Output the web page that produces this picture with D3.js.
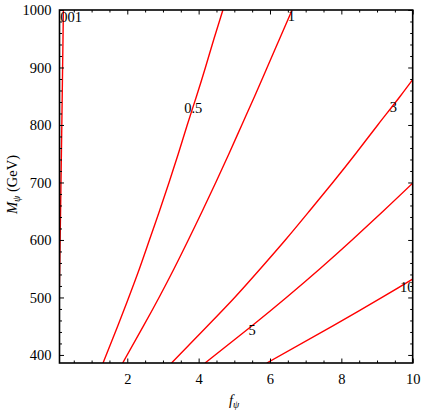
<!DOCTYPE html>
<html>
<head>
<meta charset="utf-8">
<script src="https://cdn.jsdelivr.net/npm/d3@7"></script>
<style>
    html, body { margin: 0; padding: 0; background: #fff; }
    svg { display: block; }
</style>
</head>
<body>
<svg id="chart"></svg>
<script>
const SERIF = '"Liberation Serif", "Times New Roman", "DejaVu Serif", serif';

// Contour levels and their lines, each point is [f_psi, M_psi]
const levels = ['0.001', '0.5', '1', '3', '5', '10'];

const massGrid = [386, 450, 500, 550, 600, 650, 700, 750, 800, 850, 900, 950, 1000];

const line0001 = [0.059, 0.077, 0.091, 0.105, 0.117, 0.130, 0.142, 0.153, 0.165, 0.176, 0.187, 0.198, 0.209];
const line05 = [1.32, 1.73, 2.04, 2.34, 2.62, 2.90, 3.17, 3.43, 3.68, 3.94, 4.19, 4.43, 4.68];
const line1 = [1.87, 2.45, 2.89, 3.31, 3.71, 4.10, 4.48, 4.85, 5.21, 5.57, 5.92, 6.27, 6.62];
const line3 = [3.24, 4.24, 5.01, 5.73, 6.43, 7.10, 7.76, 8.40, 9.02, 9.65, 10.25, 10.86, 11.47];
const line5 = [4.18, 5.48, 6.46, 7.40, 8.30, 9.17, 10.02, 10.84, 11.65, 12.45, 13.24, 14.02, 14.80];
const line10 = [5.91, 7.75, 9.14, 10.47, 11.73, 12.96, 14.17, 15.34, 16.47, 17.61, 18.72, 19.83, 20.93];

// where each contour label sits (data coords)
const labelF = [0.27, 3.85, 6.6, 9.46, 5.5, 9.85];
const labelM = [988, 830, 990, 831, 443, 518];

const xTicks = [2, 4, 6, 8, 10];
const yTicks = [400, 500, 600, 700, 800, 900, 1000];

const width = 421, height = 412;
const margin = { top: 10, right: 8.3, bottom: 49, left: 59.5 };
const plotW = width - margin.left - margin.right;
const plotH = height - margin.top - margin.bottom;

const svg = d3.select('#chart')
    .attr('width', width)
    .attr('height', height)
    .attr('viewBox', `0 0 ${width} ${height}`)
    .attr('font-family', SERIF);

const x = d3.scaleLinear().domain([0.1, 10]).range([0, plotW]);
const y = d3.scaleLinear().domain([386, 1000]).range([plotH, 0]);

const g = svg.append('g')
    .attr('transform', `translate(${margin.left},${margin.top})`);

g.append('clipPath').attr('id', 'plot-clip')
    .append('rect').attr('width', plotW).attr('height', plotH);

// contour lines
const series = [line0001, line05, line1, line3, line5, line10]
    .map(vals => vals.map((f, i) => [f, massGrid[i]]));

const line = d3.line()
    .x(d => x(d[0]))
    .y(d => y(d[1]))
    .curve(d3.curveNatural);

const plot = g.append('g').attr('clip-path', 'url(#plot-clip)');

plot.selectAll('path.contour')
    .data(series)
    .enter()
    .append('path')
    .attr('class', 'contour')
    .attr('d', line)
    .attr('fill', 'none')
    .attr('stroke', '#ff0000')
    .attr('stroke-width', 1.4);

plot.selectAll('text.label')
    .data(levels)
    .enter()
    .append('text')
    .attr('class', 'label')
    .attr('x', (d, i) => x(labelF[i]))
    .attr('y', (d, i) => y(labelM[i]))
    .attr('text-anchor', 'middle')
    .attr('dominant-baseline', 'central')
    .attr('font-size', 14.5)
    .attr('fill', '#000')
    .text(d => d);

// frame ticks, pointing inward on all four sides
const xMinor = d3.range(0.5, 10, 0.5).filter(v => v % 2 !== 0);
const yMinor = d3.range(400, 1000, 20).filter(v => v % 100 !== 0);

const bottomAxis = d3.axisBottom(x).tickValues(xTicks).tickSize(-4.5).tickPadding(11).tickFormat(d3.format('d'));
const topAxis = d3.axisTop(x).tickValues(xTicks).tickSize(-4.5).tickFormat('');
const leftAxis = d3.axisLeft(y).tickValues(yTicks).tickSize(-4.5).tickPadding(8).tickFormat(d3.format('d'));
const rightAxis = d3.axisRight(y).tickValues(yTicks).tickSize(-4.5).tickFormat('');

const minorB = d3.axisBottom(x).tickValues(xMinor).tickSize(-2.5).tickFormat('');
const minorT = d3.axisTop(x).tickValues(xMinor).tickSize(-2.5).tickFormat('');
const minorL = d3.axisLeft(y).tickValues(yMinor).tickSize(-2.5).tickFormat('');
const minorR = d3.axisRight(y).tickValues(yMinor).tickSize(-2.5).tickFormat('');

const axes = [
    [bottomAxis, `translate(0,${plotH})`], [minorB, `translate(0,${plotH})`],
    [topAxis, null], [minorT, null],
    [leftAxis, null], [minorL, null],
    [rightAxis, `translate(${plotW},0)`], [minorR, `translate(${plotW},0)`]
];

axes.forEach(([ax, tr]) => {
    const a = g.append('g').call(ax)
        .attr('font-family', SERIF)
        .attr('font-size', 14.5);
    if (tr) a.attr('transform', tr);
    a.select('.domain').remove();
    a.selectAll('line').attr('stroke', '#000').attr('stroke-width', 1);
    a.selectAll('text').attr('fill', '#000');
});

// frame
g.append('rect')
    .attr('width', plotW)
    .attr('height', plotH)
    .attr('fill', 'none')
    .attr('stroke', '#000')
    .attr('stroke-width', 1.6);

// axis titles
const xTitle = svg.append('text')
    .attr('x', margin.left + plotW / 2 - 2)
    .attr('y', 405)
    .attr('text-anchor', 'middle')
    .attr('font-size', 14.5);
xTitle.append('tspan').attr('font-style', 'italic').text('f');
xTitle.append('tspan').attr('font-style', 'italic').attr('font-size', 10)
    .attr('dy', 3).text('ψ');

const yTitle = svg.append('text')
    .attr('transform', `translate(17,${margin.top + plotH / 2 - 2}) rotate(-90)`)
    .attr('text-anchor', 'middle')
    .attr('font-size', 14.5);
yTitle.append('tspan').attr('font-style', 'italic').text('M');
yTitle.append('tspan').attr('font-style', 'italic').attr('font-size', 10)
    .attr('dy', 3).text('ψ');
yTitle.append('tspan').attr('dy', -3).text(' (GeV)');
</script>
</body>
</html>
